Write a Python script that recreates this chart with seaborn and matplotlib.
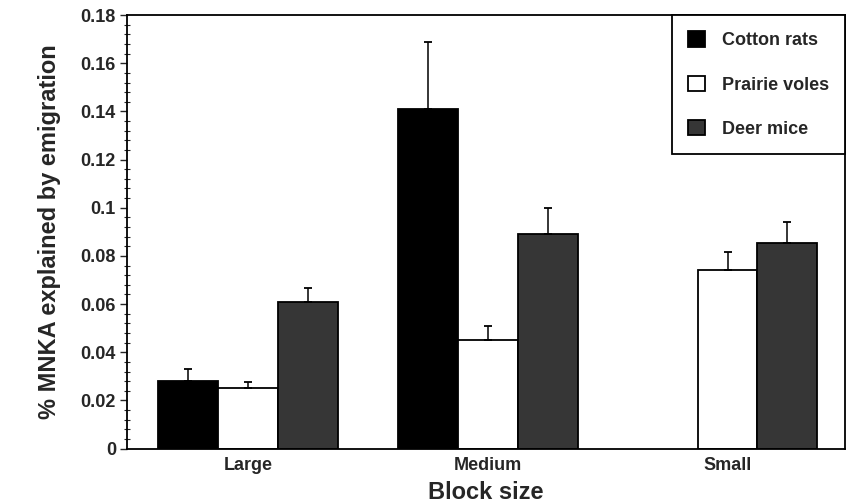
import matplotlib
matplotlib.use("Agg")
import matplotlib.pyplot as plt
from matplotlib.ticker import MultipleLocator, FuncFormatter
import numpy as np
import pandas as pd
import seaborn as sns

# Mean proportion of MNKA explained by emigration, with upper standard errors
block_sizes = ["Large", "Medium", "Small"]
species = ["Cotton rats", "Prairie voles", "Deer mice"]
cotton_rats = [0.028, 0.141, np.nan]
prairie_voles = [0.025, 0.045, 0.074]
deer_mice = [0.061, 0.089, 0.0855]
cotton_rats_err = [0.005, 0.028, np.nan]
prairie_voles_err = [0.0028, 0.006, 0.0075]
deer_mice_err = [0.0058, 0.011, 0.0085]

means = {"Cotton rats": cotton_rats, "Prairie voles": prairie_voles, "Deer mice": deer_mice}
errs = {"Cotton rats": cotton_rats_err, "Prairie voles": prairie_voles_err, "Deer mice": deer_mice_err}

rows = []
for sp in species:
    for i, b in enumerate(block_sizes):
        rows.append({"Block size": b, "Species": sp, "value": means[sp][i], "err": errs[sp][i]})
df = pd.DataFrame(rows)

sns.set_style("ticks")
plt.rcParams["font.family"] = ["Liberation Sans", "DejaVu Sans"]
plt.rcParams["font.weight"] = "bold"

fills = {"Cotton rats": "#000000", "Prairie voles": "#ffffff", "Deer mice": "#363636"}

fig = plt.figure(figsize=(8.5, 5.04), dpi=100)
ax = fig.add_axes([0.1494, 0.110, 0.8447, 0.860])

sns.barplot(data=df.dropna(subset=["value"]), x="Block size", y="value", hue="Species",
            order=block_sizes, hue_order=species, palette=fills, errorbar=None,
            width=0.75, edgecolor="black", linewidth=1.3, saturation=1, ax=ax)

# upward-only error bars placed on each drawn bar
for sp, cont in zip(species, ax.containers):
    for patch in cont.patches:
        xc = patch.get_x() + patch.get_width() / 2
        cat = int(round(xc))
        e = errs[sp][cat]
        if np.isnan(e):
            continue
        ax.errorbar(xc, patch.get_height(), yerr=[[0], [e]], fmt="none",
                    ecolor="black", elinewidth=1.1, capsize=3.2, capthick=1.3, zorder=3)

ax.set_xlim(-0.505, 2.49)
ax.set_ylim(0, 0.18)
ax.yaxis.set_major_locator(MultipleLocator(0.02))
ax.yaxis.set_minor_locator(MultipleLocator(0.004))
ax.yaxis.set_major_formatter(FuncFormatter(lambda v, p: f"{v:.2f}".rstrip("0").rstrip(".") if v else "0"))
ax.tick_params(axis="y", which="major", direction="out", length=5, width=1, labelsize=13, pad=3)
ax.tick_params(axis="y", which="minor", direction="inout", length=4, width=0.8)
ax.tick_params(axis="x", length=0, labelsize=13, pad=6)
for lab in ax.get_xticklabels() + ax.get_yticklabels():
    lab.set_fontweight("bold")

for s in ax.spines.values():
    s.set_visible(True)
    s.set_linewidth(1.3)
    s.set_color("black")

ax.set_xlabel("Block size", fontsize=17, fontweight="bold", labelpad=5)
ax.set_ylabel("% MNKA explained by emigration", fontsize=17, fontweight="bold", labelpad=14)

handles, labels = ax.get_legend_handles_labels()
leg = ax.legend(handles, labels, loc="upper right", borderaxespad=0, frameon=True,
                fancybox=False, edgecolor="black", fontsize=13, prop={"weight": "bold", "size": 13},
                handlelength=0.95, handleheight=0.95, handletextpad=0.9,
                labelspacing=1.45, borderpad=0.9)
leg.get_frame().set_linewidth(1.3)
leg.get_frame().set_alpha(1)

fig.savefig("out.png", dpi=100)
